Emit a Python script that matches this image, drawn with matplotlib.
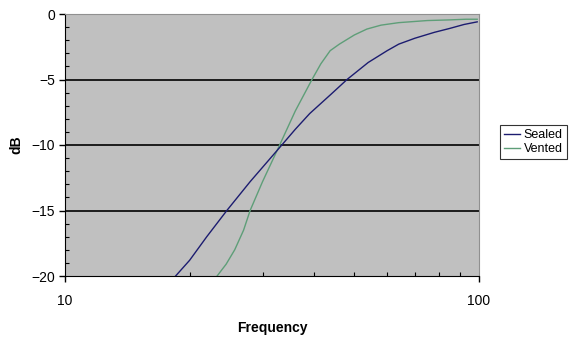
import matplotlib.pyplot as plt
from matplotlib.ticker import FixedLocator, NullFormatter

plt.rcParams['font.family'] = ['Liberation Sans', 'DejaVu Sans']

# sealed box response
sealed_f = [18.5, 20, 22, 24.6, 28, 33.4, 36, 39, 44, 48, 54, 60, 64, 70, 78, 85, 92, 99]
sealed_db = [-20, -18.8, -17, -15, -12.8, -10, -8.8, -7.6, -6.1, -5, -3.7, -2.8, -2.3, -1.85, -1.4, -1.1, -0.8, -0.6]

# vented box response
vented_f = [23.3, 24.5, 25.7, 27, 28, 30, 33, 36, 39.5, 41.5, 43.7, 46, 50, 53.6, 58, 64, 75, 85, 93, 99]
vented_db = [-20, -19.1, -18, -16.5, -15, -12.8, -10, -7.4, -5, -3.8, -2.8, -2.3, -1.6, -1.15, -0.85, -0.66, -0.5, -0.45, -0.4, -0.4]

fig = plt.figure(figsize=(5.8, 3.37), dpi=100)
ax = fig.add_axes([65/580, 1-276/337, 414/580, 262/337])
ax.set_facecolor('#c0c0c0')

for y in [-5, -10, -15]:
    ax.axhline(y, color='black', lw=1.2, zorder=1)

ax.plot(sealed_f, sealed_db, color='#1c1c70', lw=1, label='Sealed', zorder=3)
ax.plot(vented_f, vented_db, color='#5e9e78', lw=1, label='Vented', zorder=2)

ax.set_xscale('log')
ax.set_xlim(10, 100)
ax.set_ylim(-20, 0)
ax.xaxis.set_major_locator(FixedLocator([10, 100]))
ax.xaxis.set_minor_locator(FixedLocator([20, 30, 40, 50, 60, 70, 80, 90]))
ax.xaxis.set_major_formatter(plt.FixedFormatter(['10', '100']))
ax.xaxis.set_minor_formatter(NullFormatter())
ax.yaxis.set_major_locator(FixedLocator([0, -5, -10, -15, -20]))
ax.yaxis.set_minor_locator(FixedLocator(list(range(-19, 0))))

ax.tick_params(which='major', direction='out', length=4, width=1, labelsize=10, colors='black')
ax.tick_params(which='minor', direction='in', length=3, width=0.8)
ax.tick_params(axis='x', pad=9)
ax.tick_params(axis='y', pad=3)

ax.spines['left'].set_color('black')
ax.spines['bottom'].set_color('black')
ax.spines['top'].set_color('#909090')
ax.spines['right'].set_color('#909090')

ax.set_xlabel('Frequency', fontsize=10, fontweight='bold', labelpad=9)
ax.set_ylabel('dB', fontsize=10, fontweight='bold', labelpad=6)

leg = fig.legend(loc='center left', bbox_to_anchor=(500/580, 1-142/337), fontsize=9,
                 frameon=True, fancybox=False, handlelength=1.3, handletextpad=0.3,
                 borderpad=0.3, labelspacing=0.15, borderaxespad=0)
leg.get_frame().set_edgecolor('black')
leg.get_frame().set_linewidth(0.8)

fig.savefig('out.png', dpi=100, facecolor='white')
